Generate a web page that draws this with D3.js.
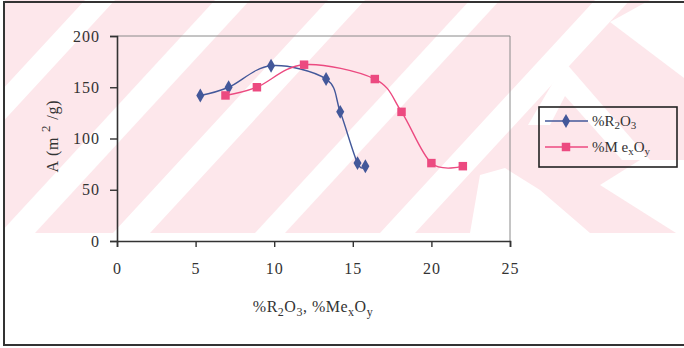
<!DOCTYPE html>
<html lang="en">
<head>
    <meta charset="UTF-8">
    <title>A vs %R2O3, %MexOy</title>
    <script src="https://cdn.jsdelivr.net/npm/d3@7"></script>
    <style>
        body { margin: 0; background: #fff; }
    </style>
</head>
<body>
<script>
    // data
    const r2o3X = [5.3, 7.1, 9.8, 13.3, 14.2, 15.3, 15.8];
    const r2o3Y = [142, 150, 171, 158, 126, 76, 73];
    const mexoyX = [6.9, 8.9, 11.9, 16.4, 18.1, 20.0, 22.0];
    const mexoyY = [142, 150, 172, 158, 126, 76, 73];
    const xTicks = [0, 5, 10, 15, 20, 25];
    const yTicks = [0, 50, 100, 150, 200];

    const width = 684, height = 348;
    const plot = {left: 117, right: 510, top: 36, bottom: 241};
    const font = '"Liberation Serif", "Times New Roman", serif';
    const blue = '#43589a', pink = '#ec4a80';

    const svg = d3.select('body').append('svg')
        .attr('width', width)
        .attr('height', height)
        .style('font-family', font);

    // faint watermark behind the chart
    const wm = svg.append('g');
    wm.append('rect')
        .attr('x', 5).attr('y', 0)
        .attr('width', width - 5).attr('height', 233)
        .attr('fill', '#fde7eb');
    const stripes = [[85, 115], [215, 250], [328, 365], [470, 500], [595, 630]];
    const shift = 215;
    stripes.forEach(s => {
        wm.append('polygon')
            .attr('points', [[s[0], 0], [s[1], 0], [s[1] - shift, 233], [s[0] - shift, 233]].join(' '))
            .attr('fill', '#fff');
    });
    wm.append('polygon')
        .attr('points', '610,22 650,0 684,0 684,78')
        .attr('fill', '#fff');
    wm.append('polygon')
        .attr('points', '528,125 565,62 650,160 622,160 565,96 550,125')
        .attr('fill', '#fff');
    wm.append('polygon')
        .attr('points', '470,233 590,233 540,190 505,168 480,175')
        .attr('fill', '#fff');
    wm.append('polygon')
        .attr('points', '640,160 684,160 684,233 676,233 600,185')
        .attr('fill', '#fff');

    // outer frame
    svg.append('rect')
        .attr('x', 4).attr('y', 2)
        .attr('width', 700).attr('height', 343)
        .attr('fill', 'none')
        .attr('stroke', '#333')
        .attr('stroke-width', 2);

    const x = d3.scaleLinear().domain([0, 25]).range([plot.left, plot.right]);
    const y = d3.scaleLinear().domain([0, 200]).range([plot.bottom, plot.top]);

    // top and right border of the plot area
    svg.append('path')
        .attr('d', `M${plot.left},${plot.top}H${plot.right}V${plot.bottom}`)
        .attr('fill', 'none')
        .attr('stroke', '#8a8a8a')
        .attr('stroke-width', 1);

    const xAxis = svg.append('g')
        .attr('transform', `translate(0,${plot.bottom})`)
        .call(d3.axisBottom(x).tickValues(xTicks).tickSize(6).tickPadding(16));
    const yAxis = svg.append('g')
        .attr('transform', `translate(${plot.left},0)`)
        .call(d3.axisLeft(y).tickValues(yTicks).tickSize(7).tickPadding(10));

    [xAxis, yAxis].forEach(a => {
        a.select('.domain').attr('stroke', '#333').attr('stroke-width', 1.6);
        a.selectAll('.tick line').attr('stroke', '#333').attr('stroke-width', 1.4);
        a.selectAll('.tick text')
            .attr('fill', '#333')
            .style('font-family', font)
            .style('font-size', '16px')
            .style('letter-spacing', '1px');
    });

    // text with sub/superscripts: parts are [text, shift]
    function rich(t, parts, small) {
        parts.forEach(p => {
            const sp = t.append('tspan').text(p[0]);
            if (p[1]) sp.attr('dy', p[1]).style('font-size', small);
            else sp.attr('dy', 0);
        });
    }
    function richParts(list) {
        // turn a list of [text, offset] into tspans that return to the baseline
        const out = [];
        let cur = 0;
        list.forEach(p => {
            const off = p[1] || 0;
            out.push([p[0], off - cur]);
            cur = off;
        });
        return out;
    }
    function addRich(t, list, small) {
        const parts = richParts(list);
        parts.forEach((p, i) => {
            const sp = t.append('tspan').text(p[0]).attr('dy', p[1]);
            if (list[i][1]) sp.style('font-size', small);
        });
    }

    // axis titles
    const xt = svg.append('text')
        .attr('x', 313).attr('y', 312)
        .attr('text-anchor', 'middle')
        .attr('fill', '#333')
        .style('font-size', '16px')
        .style('letter-spacing', '0.5px');
    addRich(xt, [['%R'], ['2', 4], ['O'], ['3', 4], [', %Me'], ['x', 4], ['O'], ['y', 4]], '12px');

    const yt = svg.append('text')
        .attr('transform', 'translate(58,136) rotate(-90)')
        .attr('text-anchor', 'middle')
        .attr('fill', '#333')
        .style('font-size', '16px')
        .style('letter-spacing', '0.8px');
    addRich(yt, [['A (m '], ['2', -8], [' /g)']], '13px');

    // series
    const series = [
        {xs: r2o3X, ys: r2o3Y, color: blue, shape: d3.symbolDiamond, size: 56},
        {xs: mexoyX, ys: mexoyY, color: pink, shape: d3.symbolSquare, size: 72}
    ];

    const line = d3.line()
        .x(d => x(d[0]))
        .y(d => y(d[1]))
        .curve(d3.curveCardinal.tension(0));

    series.forEach(s => {
        const pts = s.xs.map((v, i) => [v, s.ys[i]]);
        svg.append('path')
            .datum(pts)
            .attr('d', line)
            .attr('fill', 'none')
            .attr('stroke', s.color)
            .attr('stroke-width', 1.4);
        svg.selectAll(null)
            .data(pts)
            .enter().append('path')
            .attr('d', d3.symbol().type(s.shape).size(s.size))
            .attr('transform', d => `translate(${x(d[0])},${y(d[1])})`)
            .attr('fill', s.color);
    });

    // legend
    const lg = svg.append('g');
    lg.append('rect')
        .attr('x', 539).attr('y', 107)
        .attr('width', 138).attr('height', 60)
        .attr('fill', 'none')
        .attr('stroke', '#222')
        .attr('stroke-width', 1.6);

    const labels = [
        [['%R'], ['2', 3], ['O'], ['3', 3]],
        [['%M e'], ['x', 3], ['O'], ['y', 3]]
    ];
    series.forEach((s, i) => {
        const ly = 121 + i * 26;
        lg.append('line')
            .attr('x1', 545).attr('x2', 588)
            .attr('y1', ly).attr('y2', ly)
            .attr('stroke', s.color)
            .attr('stroke-width', 1.4);
        lg.append('path')
            .attr('d', d3.symbol().type(s.shape).size(s.size))
            .attr('transform', `translate(566,${ly})`)
            .attr('fill', s.color);
        const t = lg.append('text')
            .attr('x', 592).attr('y', ly + 5)
            .attr('fill', '#333')
            .style('font-size', '15px');
        addRich(t, labels[i], '11px');
    });
</script>
</body>
</html>
